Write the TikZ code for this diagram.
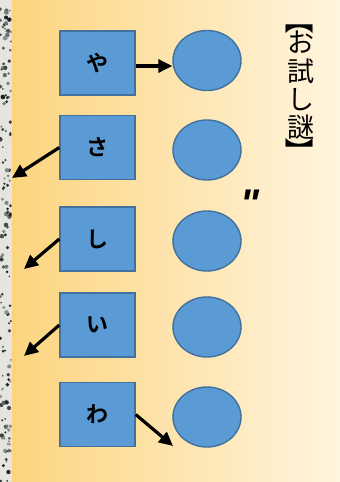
\documentclass[tikz,border=0pt]{standalone}
\usepackage{fontspec}
\usepackage{graphicx}
\newfontfamily\cjk{Noto Sans CJK JP}
\newfontfamily\cjkb{Noto Sans CJK JP Bold}
\newfontfamily\qfont{Liberation Sans}
\usetikzlibrary{shapes.geometric,arrows.meta}
\definecolor{bluefill}{HTML}{5B9BD5}
\definecolor{blueedge}{HTML}{41719C}
\definecolor{bgleft}{HTML}{FCD47E}
\definecolor{bgright}{HTML}{FFF5DF}
\definecolor{paper}{HTML}{E6E4DE}
\tikzset{
  kbox/.style={draw=blueedge,line width=1.4pt,fill=bluefill,minimum width=75pt,minimum height=64pt,inner sep=0pt,font=\cjkb\fontsize{22}{22}\selectfont},
  kell/.style={ellipse,draw=blueedge,line width=1.4pt,fill=bluefill,minimum width=68pt,minimum height=60pt,inner sep=0pt},
  karrow/.style={line width=3.2pt,-{Triangle[length=14pt,width=13pt]}},
  brk/.style={font=\cjk\fontsize{29}{29}\selectfont,inner sep=0pt}
}
\begin{document}
\begin{tikzpicture}[x=1pt,y=-1pt]
\useasboundingbox (0,0) rectangle (340,482);
% background
\shade[left color=bgleft,right color=bgright] (11,0) rectangle (340,482);
% newspaper strip
\fill[paper] (0,0) rectangle (11.5,482);
\begin{scope}
\clip (0,0) rectangle (11.5,482);
\pgfmathsetseed{17}
\foreach \i in {1,...,140}{
  \pgfmathsetmacro{\xx}{rnd*11}
  \pgfmathsetmacro{\yy}{rnd*482}
  \pgfmathsetmacro{\rr}{0.8+rnd*1.6}
  \pgfmathsetmacro{\gg}{40+rnd*50}
  \fill[black!\gg] (\xx,\yy) circle (\rr);
}
\end{scope}
% boxes
\node[kbox] (b1) at (97.5,63) {や};
\node[kbox] (b2) at (97.5,147.5) {さ};
\node[kbox] (b3) at (97.5,239) {し};
\node[kbox] (b4) at (97.5,325) {い};
\node[kbox] (b5) at (97.5,414.5) {わ};
% ellipses
\node[kell] (c1) at (207,60.5) {};
\node[kell] (c2) at (207,150) {};
\node[kell] (c3) at (207,241) {};
\node[kell] (c4) at (207,327) {};
\node[kell] (c5) at (207,417) {};
% free ends
\coordinate (e2) at (12,178);
\coordinate (e3) at (24,269);
\coordinate (e4) at (24,356);
\coordinate (e5) at (173,446);
% arrows
\draw[karrow] ([yshift=-3pt]b1.east) -- ([yshift=-3pt]b1.east -| c1.west);
\draw[karrow] (b2.west) -- (e2);
\draw[karrow] (b3.west) -- (e3);
\draw[karrow] (b4.west) -- (e4);
\draw[karrow] (b5.east) -- (e5);
% quote mark
\node[font=\qfont\bfseries\itshape\fontsize{40}{40}\selectfont,inner sep=0pt,anchor=north] (q) at (250,190) {"};
% vertical title
\node[font=\cjk\fontsize{27}{28.3}\selectfont,align=center,inner sep=0pt] (t) at (300.5,85.5)
  {お\\試\\し\\謎};
\node[brk] (tb1) at (300,20) {\rotatebox[origin=c]{-90}{【}};
\node[brk] (tb2) at (300,151.5) {\rotatebox[origin=c]{-90}{】}};
\end{tikzpicture}
\end{document}
